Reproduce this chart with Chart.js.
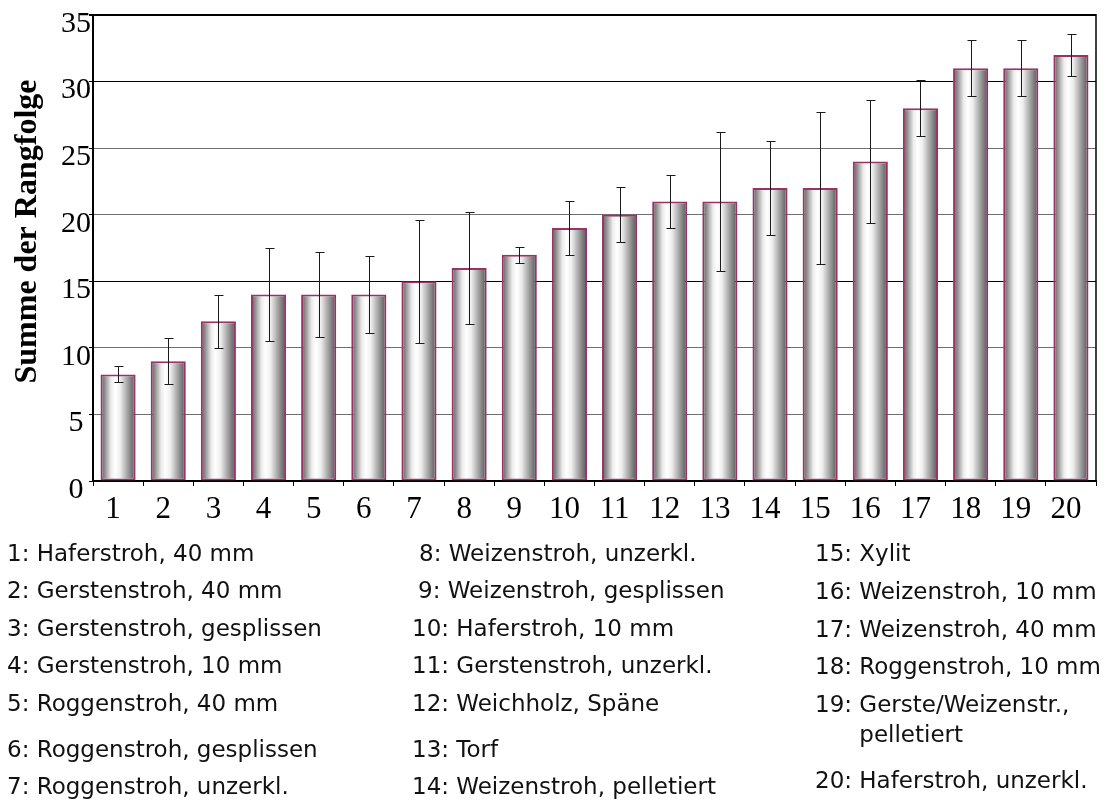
<!DOCTYPE html>
<html>
<head>
<meta charset="utf-8">
<script src="https://cdn.jsdelivr.net/npm/chart.js@4.4.1/dist/chart.umd.min.js"></script>
<style>
  html, body { margin: 0; padding: 0; background: #fff; }
  #wrap { position: relative; width: 1107px; height: 800px; }
  #legend div {
    position: absolute; display: flex;
    font-family: "DejaVu Sans", Verdana, sans-serif; font-size: 23px; line-height: 30px;
    color: #111; white-space: nowrap;
  }
  #legend .num { white-space: pre; }
  #legend .txt { white-space: pre-line; }
</style>
</head>
<body>
<div id="wrap">
  <canvas id="chart" width="1107" height="800"></canvas>
  <div id="legend"></div>
</div>
<script>
// ========= data =========
const categories = ["1", "2", "3", "4", "5", "6", "7", "8", "9", "10",
                    "11", "12", "13", "14", "15", "16", "17", "18", "19", "20"];
const rankSums = [8, 9, 12, 14, 14, 14, 15, 16, 17, 19, 20, 21, 21, 22, 22, 24, 28, 31, 31, 32];
// half length of the error bars
const rankErrors = [0.6, 1.75, 2, 3.5, 3.2, 2.9, 4.6, 4.2, 0.6, 2.05,
                    2.05, 2, 5.2, 3.5, 5.7, 4.6, 2.1, 2.1, 2.1, 1.55];
const yMin = 0, yMax = 35, yStep = 5;
const yTitle = "Summe der Rangfolge";
const legendLabels = [
  "Haferstroh, 40 mm", "Gerstenstroh, 40 mm", "Gerstenstroh, gesplissen", "Gerstenstroh, 10 mm",
  "Roggenstroh, 40 mm", "Roggenstroh, gesplissen", "Roggenstroh, unzerkl.",
  "Weizenstroh, unzerkl.", "Weizenstroh, gesplissen", "Haferstroh, 10 mm", "Gerstenstroh, unzerkl.",
  "Weichholz, Späne", "Torf", "Weizenstroh, pelletiert",
  "Xylit", "Weizenstroh, 10 mm", "Weizenstroh, 40 mm", "Roggenstroh, 10 mm",
  "Gerste/Weizenstr.,\npelletiert", "Haferstroh, unzerkl."
];

// ========= legend layout (3 columns under the chart) =========
const legendLeft = [7, 7, 7, 7, 7, 7, 7,
                    419, 418, 412, 412, 412, 412, 412,
                    815, 815, 815, 815, 815, 815];
const legendBaseline = [561, 598, 636, 673, 711, 757, 794,
                        561, 598, 636, 673, 711, 757, 794,
                        561, 599, 637, 674, 712, 788];

const legendBox = document.getElementById("legend");
legendLabels.forEach((txt, i) => {
  const d = document.createElement("div");
  d.style.left = legendLeft[i] + "px";
  d.style.top = (legendBaseline[i] - 22.9) + "px";
  const n = document.createElement("span");
  n.className = "num";
  n.textContent = categories[i] + ": ";
  const t = document.createElement("span");
  t.className = "txt";
  t.textContent = txt;
  d.appendChild(n);
  d.appendChild(t);
  legendBox.appendChild(d);
});

const serif = '"Liberation Serif", "Times New Roman", serif';

// silver "cylinder" look of the bars
function barGradient(c) {
  if (c.type !== "data") return "#d0d0d0";
  const chart = c.chart, xs = chart.scales.x;
  if (!chart.chartArea || !xs) return "#d0d0d0";
  const cx = xs.getPixelForValue(c.dataIndex);
  const half = (xs.width / categories.length) * 0.7 / 2;
  const g = chart.ctx.createLinearGradient(cx - half, 0, cx + half, 0);
  g.addColorStop(0, "#5c5c5c");
  g.addColorStop(0.12, "#8e8e8e");
  g.addColorStop(0.3, "#ececec");
  g.addColorStop(0.42, "#ffffff");
  g.addColorStop(0.56, "#eeeeee");
  g.addColorStop(0.76, "#a6a6a6");
  g.addColorStop(0.92, "#6e6e6e");
  g.addColorStop(1, "#585858");
  return g;
}

const errorBars = {
  id: "errorBars",
  afterDatasetsDraw(chart) {
    const meta = chart.getDatasetMeta(0);
    const ys = chart.scales.y;
    const ctx = chart.ctx;
    ctx.save();
    ctx.strokeStyle = "#1a1a1a";
    ctx.lineWidth = 1;
    meta.data.forEach((bar, i) => {
      const x = Math.round(bar.x) + 0.5;
      const top = Math.round(ys.getPixelForValue(rankSums[i] + rankErrors[i])) + 0.5;
      const bot = Math.round(ys.getPixelForValue(rankSums[i] - rankErrors[i])) + 0.5;
      ctx.beginPath();
      ctx.moveTo(x, top); ctx.lineTo(x, bot);
      ctx.moveTo(x - 4, top); ctx.lineTo(x + 5, top);
      ctx.moveTo(x - 4, bot); ctx.lineTo(x + 5, bot);
      ctx.stroke();
    });
    ctx.restore();
  }
};

// right edge of the plot box + rotated axis title
const frameAndTitle = {
  id: "frameAndTitle",
  afterDraw(chart) {
    const { ctx, chartArea } = chart;
    ctx.save();
    ctx.strokeStyle = "#000";
    ctx.lineWidth = 1.5;
    ctx.beginPath();
    ctx.moveTo(chartArea.right, chartArea.top - 1);
    ctx.lineTo(chartArea.right, chartArea.bottom);
    ctx.stroke();

    ctx.translate(27.5, 231.5);
    ctx.rotate(-Math.PI / 2);
    ctx.font = "bold 32px " + serif;
    ctx.fillStyle = "#000";
    ctx.textAlign = "center";
    ctx.textBaseline = "middle";
    ctx.fillText(yTitle, 0, 0);
    ctx.restore();
  }
};

new Chart(document.getElementById("chart"), {
  type: "bar",
  data: {
    labels: categories,
    datasets: [{
      data: rankSums,
      backgroundColor: barGradient,
      borderColor: "#993366",
      borderWidth: 2,
      borderSkipped: false,
      barPercentage: 0.7,
      categoryPercentage: 1
    }]
  },
  options: {
    responsive: false,
    maintainAspectRatio: false,
    animation: false,
    layout: { padding: { top: 15, right: 11, left: 0, bottom: 0 } },
    plugins: {
      legend: { display: false },
      tooltip: { enabled: false }
    },
    scales: {
      x: {
        grid: { offset: true, drawOnChartArea: false, tickLength: 5, color: "#000", lineWidth: 1 },
        border: { color: "#000", width: 2 },
        ticks: {
          color: "#000",
          font: { family: serif, size: 31 },
          padding: 5,
          labelOffset: -5,
          maxRotation: 0,
          autoSkip: false
        },
        afterFit(s) { s.height = 319; s.paddingLeft = 0; s.paddingRight = 0; }
      },
      y: {
        min: yMin,
        max: yMax,
        ticks: {
          stepSize: yStep,
          color: "#000",
          font: { family: serif, size: 30 },
          padding: -2,
          labelOffset: 9,
          crossAlign: "center"
        },
        grid: {
          // the scan shows 15 and 30 darker than the other grid lines
          color: (c) => (c.tick && [15, 30, 35].includes(c.tick.value)) ? "#000" : "#6e6e6e",
          lineWidth: (c) => (c.tick && c.tick.value === 35) ? 2 : 1,
          tickLength: 4,
          tickColor: "#000"
        },
        border: { color: "#000", width: 2 },
        afterFit(s) { s.width = 93; s.paddingTop = 0; s.paddingBottom = 0; }
      }
    }
  },
  plugins: [errorBars, frameAndTitle]
});
</script>
</body>
</html>
